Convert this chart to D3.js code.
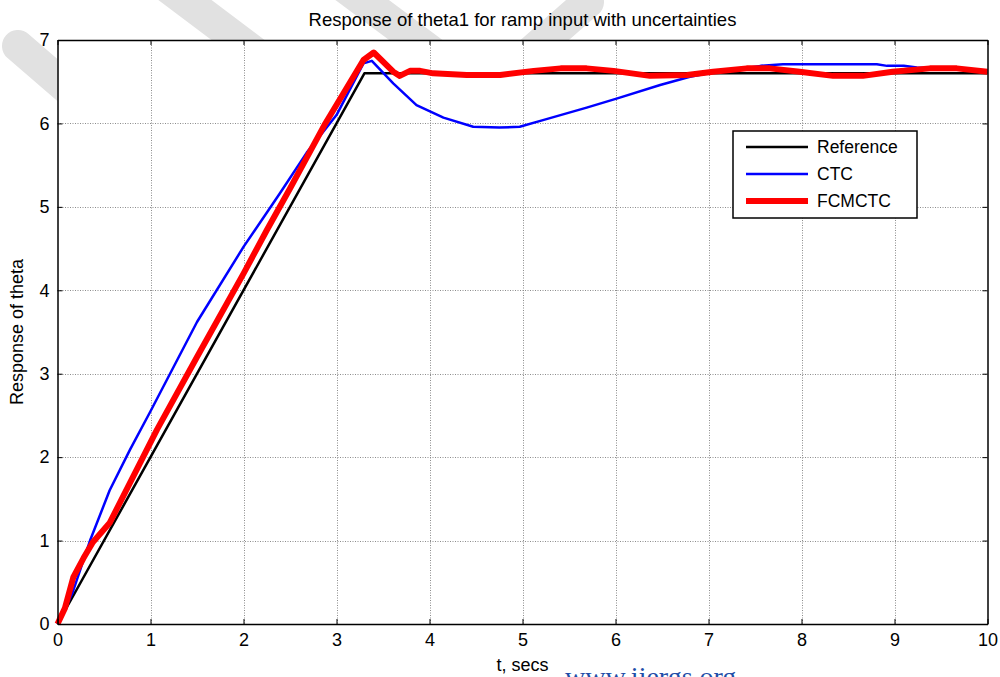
<!DOCTYPE html>
<html>
<head>
<meta charset="utf-8">
<script src="https://cdn.jsdelivr.net/npm/d3@7"></script>
<style>
  body { margin: 0; background: #fff; }
  svg { display: block; font-family: "Liberation Sans", Arial, sans-serif; }
</style>
</head>
<body>
<div id="chart"></div>
<script>
// values
let refT = [0, 3.3, 10]
let refV = [0, 6.6, 6.6]

let ctcT = [0, 0.16, 0.35, 0.56, 0.78, 1.0, 1.5, 2.0, 2.39, 2.68, 3.0, 3.29, 3.38, 3.61, 3.86, 4.15, 4.47, 4.75, 4.97, 5.22, 5.69, 6.02, 6.48, 6.8, 7.0, 7.56, 7.8, 8.81, 8.92, 9.1, 9.24, 9.6, 10]
let ctcV = [0, 0.37, 1.0, 1.6, 2.09, 2.55, 3.62, 4.52, 5.16, 5.65, 6.1, 6.72, 6.75, 6.48, 6.22, 6.07, 5.96, 5.95, 5.96, 6.04, 6.19, 6.3, 6.46, 6.56, 6.6, 6.69, 6.71, 6.71, 6.69, 6.69, 6.67, 6.66, 6.63]

let fcmT = [0, 0.08, 0.17, 0.28, 0.38, 0.56, 0.92, 1.07, 1.5, 2.0, 2.25, 2.5, 2.88, 3.29, 3.4, 3.61, 3.68, 3.79, 3.9, 4.04, 4.4, 4.76, 5.12, 5.41, 5.69, 5.98, 6.37, 6.77, 7.05, 7.41, 7.66, 7.98, 8.34, 8.66, 8.98, 9.38, 9.67, 10]
let fcmV = [0, 0.19, 0.56, 0.79, 0.98, 1.21, 2.0, 2.33, 3.2, 4.2, 4.72, 5.22, 6.0, 6.76, 6.85, 6.62, 6.57, 6.63, 6.63, 6.6, 6.58, 6.58, 6.63, 6.66, 6.66, 6.63, 6.57, 6.58, 6.62, 6.66, 6.66, 6.62, 6.57, 6.57, 6.62, 6.66, 6.66, 6.62]

let xTicks = [0, 1, 2, 3, 4, 5, 6, 7, 8, 9, 10]
let yTicks = [0, 1, 2, 3, 4, 5, 6, 7]

let seriesNames = ["Reference", "CTC", "FCMCTC"]
let seriesColors = ["#000000", "#0000ff", "#ff0000"]
let seriesWidths = [2.5, 2.5, 6]

let width = 1000
let height = 677
let margin = ({top: 40, right: 12.5, bottom: 53, left: 57.5})

let svg = d3.select("#chart").append("svg")
    .attr("width", width)
    .attr("height", height)

// watermark bands behind the axes box
let bands = [[[18, 46], [150, 160]], [[165, -15], [262, 58]], [[342, -15], [440, 58]], [[588, 2], [522, 60]]]
svg.append("g")
    .selectAll("line")
    .data(bands)
    .join("line")
    .attr("x1", d => d[0][0]).attr("y1", d => d[0][1])
    .attr("x2", d => d[1][0]).attr("y2", d => d[1][1])
    .attr("stroke", "#e1e1e1")
    .attr("stroke-width", 32)
    .attr("stroke-linecap", "round")

let x = d3.scaleLinear()
    .domain([0, 10])
    .range([margin.left, width - margin.right])

let y = d3.scaleLinear()
    .domain([0, 7])
    .range([height - margin.bottom, margin.top])

svg.append("rect")
    .attr("x", x(0)).attr("y", y(7))
    .attr("width", x(10) - x(0)).attr("height", y(0) - y(7))
    .attr("fill", "#fff")

// grid
let grid = svg.append("g")
    .attr("stroke", "#8c8c8c")
    .attr("stroke-width", 1)
    .attr("stroke-dasharray", "1,1.5")
grid.selectAll(".gx")
    .data(xTicks.slice(1, -1))
    .join("line")
    .attr("x1", d => Math.round(x(d)) + 0.5).attr("x2", d => Math.round(x(d)) + 0.5)
    .attr("y1", y(7)).attr("y2", y(0))
grid.selectAll(".gy")
    .data(yTicks.slice(1, -1))
    .join("line")
    .attr("y1", d => Math.round(y(d)) + 0.5).attr("y2", d => Math.round(y(d)) + 0.5)
    .attr("x1", x(0)).attr("x2", x(10))

// lines
let line = d3.line()
    .x(d => x(d[0]))
    .y(d => y(d[1]))

let allSeries = [
    d3.zip(refT, refV),
    d3.zip(ctcT, ctcV),
    d3.zip(fcmT, fcmV)
]

svg.append("g")
    .selectAll("path")
    .data(allSeries)
    .join("path")
    .attr("d", line)
    .attr("fill", "none")
    .attr("stroke", (d, i) => seriesColors[i])
    .attr("stroke-width", (d, i) => seriesWidths[i])
    .attr("stroke-linejoin", "round")

// axes with inward ticks
let fixAxis = g => g
    .call(g => g.selectAll("line").attr("stroke", "#000"))
    .call(g => g.select(".domain").attr("stroke", "#000").attr("stroke-width", 1.5))
    .call(g => g.selectAll("text").attr("fill", "#000").attr("font-size", 18).attr("font-family", "Liberation Sans, Arial, sans-serif"))

svg.append("g")
    .attr("transform", `translate(0,${y(0)})`)
    .call(d3.axisBottom(x).tickValues(xTicks).tickSize(-5).tickPadding(9).tickFormat(d => d).tickSizeOuter(0))
    .call(fixAxis)

svg.append("g")
    .attr("transform", `translate(0,${y(7)})`)
    .call(d3.axisTop(x).tickValues(xTicks).tickSize(-5).tickFormat("").tickSizeOuter(0))
    .call(fixAxis)

svg.append("g")
    .attr("transform", `translate(${x(0)},0)`)
    .call(d3.axisLeft(y).tickValues(yTicks).tickSize(-5).tickPadding(8).tickFormat(d => d).tickSizeOuter(0))
    .call(fixAxis)

svg.append("g")
    .attr("transform", `translate(${x(10)},0)`)
    .call(d3.axisRight(y).tickValues(yTicks).tickSize(-5).tickFormat("").tickSizeOuter(0))
    .call(fixAxis)

// titles
svg.append("text")
    .attr("x", (x(0) + x(10)) / 2)
    .attr("y", 26)
    .attr("text-anchor", "middle")
    .attr("font-size", 18.5)
    .text("Response of theta1 for ramp input with uncertainties")

svg.append("text")
    .attr("x", (x(0) + x(10)) / 2)
    .attr("y", 671)
    .attr("text-anchor", "middle")
    .attr("font-size", 18)
    .text("t, secs")

svg.append("text")
    .attr("transform", `translate(23,${(y(0) + y(7)) / 2}) rotate(-90)`)
    .attr("text-anchor", "middle")
    .attr("font-size", 18)
    .text("Response of theta")

// legend
let legend = svg.append("g").attr("transform", "translate(733,131)")
legend.append("rect")
    .attr("width", 184).attr("height", 87)
    .attr("fill", "#fff").attr("stroke", "#000").attr("stroke-width", 1.5)
let rows = legend.selectAll("g")
    .data(seriesNames)
    .join("g")
    .attr("transform", (d, i) => `translate(0,${16 + i * 27})`)
rows.append("line")
    .attr("x1", 13).attr("x2", 75)
    .attr("stroke", (d, i) => seriesColors[i])
    .attr("stroke-width", (d, i) => seriesWidths[i])
rows.append("text")
    .attr("x", 84).attr("y", 6)
    .attr("font-size", 17.5)
    .text(d => d)

// site watermark at the bottom edge
svg.append("text")
    .attr("x", 565)
    .attr("y", 686)
    .attr("font-family", "Liberation Serif, Times New Roman, serif")
    .attr("font-size", 28)
    .attr("fill", "#1f4ea8")
    .text("www.ijergs.org")
</script>
</body>
</html>
